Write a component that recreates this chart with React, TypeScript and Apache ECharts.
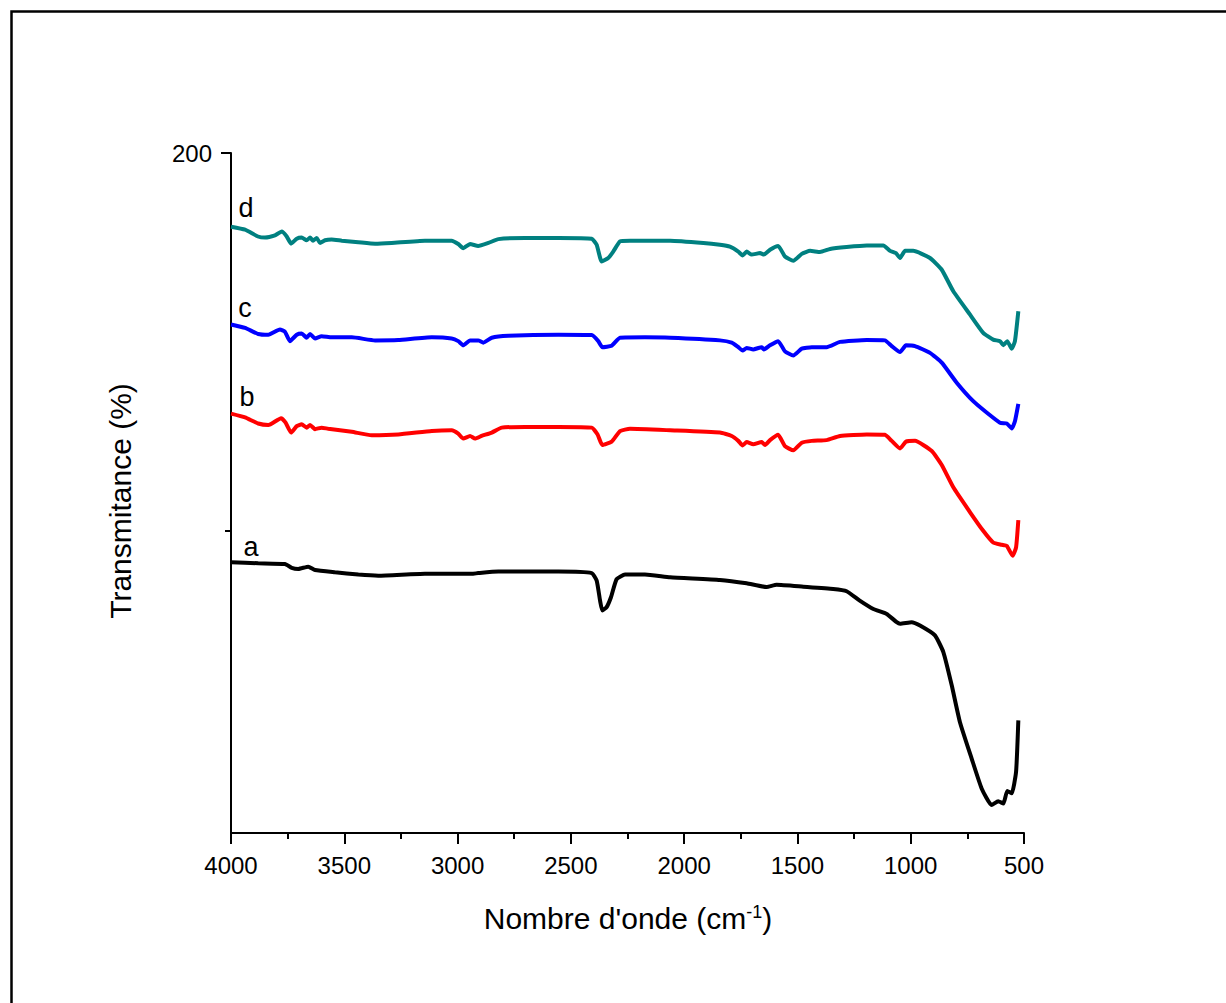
import React, { useEffect, useRef } from "react";
import * as echarts from "echarts";

// Wavenumbers (cm-1) and transmittance values
const waveA = [4000, 3880, 3762, 3732, 3703, 3659, 3629, 3541, 3438, 3350, 3144, 2938, 2909, 2820, 2555, 2408, 2386, 2371, 2361, 2342, 2323, 2298, 2261, 2173, 2062, 1842, 1724, 1636, 1592, 1474, 1342, 1283, 1225, 1165, 1106, 1062, 1047, 996, 959, 893, 856, 819, 783, 731, 687, 643, 614, 591, 574, 554, 535, 525];
const transA = [91.7, 91.4, 91.2, 90.2, 89.9, 90.5, 89.6, 89.0, 88.4, 88.1, 88.6, 88.6, 88.8, 89.2, 89.2, 88.8, 86.8, 81.5, 78.9, 79.8, 82.4, 87.2, 88.4, 88.4, 87.7, 87.0, 86.1, 85.1, 85.7, 85.2, 84.6, 84.0, 81.5, 79.3, 78.0, 75.8, 75.4, 75.8, 74.9, 72.3, 67.9, 59.1, 49.4, 39.7, 31.8, 27.4, 28.4, 27.8, 31.1, 30.5, 36.2, 49.8];

const waveB = [4000, 3938, 3880, 3835, 3779, 3759, 3735, 3710, 3688, 3666, 3651, 3629, 3600, 3571, 3467, 3379, 3262, 3114, 3026, 2997, 2975, 2945, 2923, 2894, 2849, 2805, 2702, 2555, 2408, 2382, 2361, 2320, 2283, 2239, 2062, 1842, 1790, 1761, 1742, 1724, 1695, 1658, 1643, 1621, 1585, 1555, 1518, 1481, 1437, 1371, 1312, 1194, 1114, 1084, 1047, 1021, 981, 907, 863, 812, 738, 680, 636, 599, 576, 550, 535, 525];
const transB = [131.0, 130.0, 128.4, 128.0, 129.8, 128.6, 126.0, 127.7, 128.2, 127.3, 128.0, 126.9, 127.3, 127.0, 126.2, 125.3, 125.5, 126.4, 126.6, 125.7, 124.4, 125.1, 124.4, 125.1, 126.0, 127.3, 127.5, 127.5, 127.3, 125.5, 122.7, 123.6, 126.4, 127.0, 126.6, 126.0, 125.1, 123.8, 122.6, 123.5, 122.9, 123.5, 122.7, 124.0, 125.4, 122.4, 121.3, 123.3, 123.8, 124.0, 125.1, 125.5, 125.4, 123.8, 121.8, 123.6, 123.8, 121.1, 117.4, 111.5, 104.9, 100.0, 96.9, 96.3, 96.0, 93.4, 95.6, 102.8];

const waveC = [4000, 3938, 3880, 3835, 3784, 3762, 3740, 3710, 3688, 3666, 3651, 3629, 3600, 3556, 3467, 3364, 3262, 3114, 3026, 2997, 2975, 2945, 2909, 2886, 2849, 2776, 2555, 2408, 2379, 2361, 2320, 2283, 2173, 2062, 1842, 1790, 1761, 1742, 1724, 1695, 1658, 1648, 1621, 1585, 1555, 1518, 1481, 1437, 1371, 1312, 1194, 1114, 1084, 1047, 1021, 981, 915, 863, 797, 724, 665, 606, 576, 554, 540, 525];
const transC = [154.6, 153.7, 152.1, 151.9, 153.3, 152.7, 150.2, 151.9, 152.2, 151.1, 152.1, 150.9, 151.5, 151.2, 151.2, 150.4, 150.5, 151.2, 150.9, 150.2, 149.1, 150.4, 150.4, 149.8, 151.1, 151.6, 151.9, 151.8, 150.2, 148.6, 149.0, 151.1, 151.2, 151.1, 150.4, 149.8, 148.6, 147.7, 148.4, 148.0, 148.6, 148.0, 149.1, 150.2, 147.5, 146.4, 148.2, 148.6, 148.6, 150.0, 150.5, 150.4, 148.9, 147.3, 149.1, 148.9, 147.1, 144.5, 139.2, 134.3, 131.3, 128.6, 128.4, 127.1, 129.0, 133.6];

const waveD = [4000, 3938, 3881, 3850, 3806, 3776, 3754, 3735, 3710, 3688, 3666, 3651, 3638, 3622, 3607, 3585, 3556, 3511, 3438, 3364, 3291, 3144, 3026, 2997, 2975, 2945, 2909, 2864, 2820, 2702, 2555, 2408, 2386, 2364, 2335, 2313, 2283, 2239, 2062, 1915, 1842, 1798, 1761, 1742, 1724, 1702, 1665, 1648, 1621, 1585, 1555, 1518, 1481, 1444, 1400, 1356, 1283, 1194, 1121, 1091, 1065, 1047, 1025, 989, 915, 863, 812, 738, 680, 636, 606, 591, 574, 554, 540, 525];
const transD = [180.5, 179.7, 177.9, 177.6, 178.2, 179.2, 177.9, 176.0, 177.3, 177.6, 176.9, 177.6, 176.8, 177.5, 176.2, 176.9, 177.1, 176.8, 176.4, 176.0, 176.2, 176.8, 176.8, 175.9, 174.8, 175.9, 175.4, 176.2, 177.2, 177.5, 177.5, 177.3, 175.7, 171.3, 172.2, 173.9, 176.6, 176.8, 176.8, 176.2, 175.7, 175.2, 173.9, 172.9, 173.9, 173.1, 173.5, 173.1, 174.4, 175.4, 172.6, 171.5, 173.3, 174.1, 173.8, 174.6, 175.1, 175.5, 175.5, 174.1, 173.5, 172.2, 174.1, 174.1, 172.2, 169.1, 163.4, 157.2, 152.4, 150.6, 150.2, 149.1, 150.2, 148.2, 150.2, 158.1];

const seriesNames = ["a", "b", "c", "d"];
const seriesColors = ["#000000", "#ff0000", "#0000ff", "#008080"];
const xTicks = { min: 500, max: 4000, interval: 500 };
const yRange = { min: 20, max: 200 };
const yLabelValues = [200];
const yMinorValues = [100];

const FONT = 'Arial, "Liberation Sans", Helvetica, sans-serif';

function pairs(xs: number[], ys: number[]) {
  return xs.map((x, i) => [x, ys[i]]);
}

export default function App() {
  const ref = useRef<HTMLDivElement>(null);

  useEffect(() => {
    if (!ref.current) return;
    const chart = echarts.init(ref.current, undefined, { renderer: "svg" });
    const datasets = [pairs(waveA, transA), pairs(waveB, transB), pairs(waveC, transC), pairs(waveD, transD)];

    const labelPos = [
      { x: 251, y: 547 },
      { x: 247, y: 397 },
      { x: 245, y: 308 },
      { x: 246, y: 208 },
    ];

    chart.setOption({
      animation: false,
      backgroundColor: "#ffffff",
      textStyle: { fontFamily: FONT, color: "#000" },
      grid: { left: 231, top: 153, right: 202, bottom: 170, containLabel: false },
      xAxis: {
        type: "value",
        min: xTicks.min,
        max: xTicks.max,
        interval: xTicks.interval,
        inverse: true,
        axisLine: { show: true, onZero: false, lineStyle: { color: "#000", width: 2 } },
        axisTick: { show: true, length: 11, lineStyle: { color: "#000", width: 2 } },
        minorTick: { show: true, splitNumber: 2, length: 6, lineStyle: { color: "#000", width: 2 } },
        axisLabel: {
          color: "#000",
          fontSize: 24,
          fontFamily: FONT,
          margin: 20,
          formatter: (v: number) => String(v),
        },
        splitLine: { show: false },
      },
      yAxis: [
        {
          type: "value",
          position: "left",
          min: yRange.min,
          max: yRange.max,
          axisLine: { show: true, onZero: false, lineStyle: { color: "#000", width: 2 } },
          axisTick: { show: true, length: 10, customValues: yLabelValues, lineStyle: { color: "#000", width: 2 } },
          axisLabel: {
            show: true,
            customValues: yLabelValues,
            color: "#000",
            fontSize: 24,
            fontFamily: FONT,
            margin: 19,
            formatter: (v: number) => String(v),
          },
          splitLine: { show: false },
        },
        {
          type: "value",
          position: "left",
          min: yRange.min,
          max: yRange.max,
          axisLine: { show: false },
          axisTick: { show: true, length: 6, customValues: yMinorValues, lineStyle: { color: "#000", width: 2 } },
          axisLabel: { show: false },
          splitLine: { show: false },
        },
      ],
      series: datasets.map((d, i) => ({
        name: seriesNames[i],
        type: "line",
        data: d,
        yAxisIndex: 0,
        showSymbol: false,
        symbol: "none",
        smooth: 0.15,
        lineStyle: { color: seriesColors[i], width: 4 },
        itemStyle: { color: seriesColors[i] },
        z: 2 + i,
      })),
      graphic: [
        {
          type: "rect",
          shape: { x: 11.5, y: 11.5, width: 1400, height: 1200 },
          style: { fill: "none", stroke: "#000", lineWidth: 2.5 },
          silent: true,
          z: 100,
        },
        {
          type: "text",
          x: 120,
          y: 501,
          rotation: Math.PI / 2,
          style: {
            text: "Transmitance (%)",
            fill: "#000",
            font: `30px ${FONT}`,
            align: "center",
            verticalAlign: "middle",
          },
        },
        {
          type: "text",
          x: 628,
          y: 918,
          style: {
            text: "Nombre d'onde (cm{sup|-1})",
            fill: "#000",
            font: `30px ${FONT}`,
            align: "center",
            verticalAlign: "middle",
            rich: {
              sup: { fontSize: 18, fontFamily: FONT, fill: "#000", verticalAlign: "top", lineHeight: 16 },
            },
          },
        },
        ...seriesNames.map((n, i) => ({
          type: "text",
          x: labelPos[i].x,
          y: labelPos[i].y,
          style: {
            text: n,
            fill: "#000",
            font: `27px ${FONT}`,
            align: "center",
            verticalAlign: "middle",
          },
        })),
      ],
    });
    return () => chart.dispose();
  }, []);

  return (
    <div
      ref={ref}
      style={{ position: "absolute", left: 0, top: 0, width: 1226, height: 1003, background: "#fff" }}
    />
  );
}
